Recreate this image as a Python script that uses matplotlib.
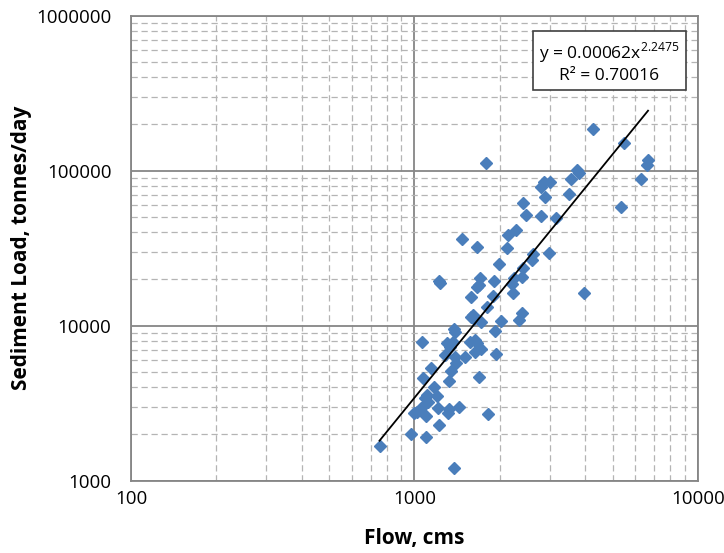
import numpy as np
import matplotlib
matplotlib.use('Agg')
import matplotlib.pyplot as plt
from matplotlib.ticker import LogLocator, FuncFormatter, NullFormatter

plt.rcParams['font.family'] = ['Open Sans', 'DejaVu Sans']
plt.rcParams['mathtext.fontset'] = 'custom'
plt.rcParams['mathtext.rm'] = 'Open Sans'

# Flow (cms) vs sediment load (tonnes/day)
flow = [753, 976, 1102, 1383, 1225, 1000, 1025, 1058, 1102, 1215,
        1328, 1318, 1439, 1822, 1093, 1111, 1120, 1205, 1176, 1076,
        1328, 1694, 1148, 1349, 1394, 1405, 1513, 1944, 1285, 1306,
        1371, 1339, 1574, 1640, 1667, 1722, 1640, 1067, 1394, 1927,
        1383, 1587, 1613, 1626, 1722, 1807, 2023, 2400, 2343, 1897,
        2232, 3969, 1587, 2213, 1667, 1694, 1708, 1913, 2249, 2400,
        1225, 1235, 2420, 1991, 2603, 2624, 2987, 2126, 1475, 1667,
        2143, 2286, 2477, 2799, 3162, 2420, 2891, 3515, 2799, 2871,
        3013, 3573, 3750, 3810, 1793, 4266, 5483, 6668, 6610, 6295,
        5358]
load = [1675, 2000, 1914, 1208, 2287, 2735, 2775, 2945, 2614, 2945,
        2902, 2735, 2990, 2692, 3417, 3573, 3222, 3520, 4022, 4598,
        4395, 4667, 5333, 5106, 6282, 5744, 6282, 6568, 6475, 7730,
        7850, 7290, 7850, 8090, 7730, 7080, 6765, 7850, 9105, 9250,
        9522, 11380, 11720, 11050, 10560, 13200, 10720, 12080, 10880, 15550,
        16260, 16260, 15310, 18580, 17770, 18310, 20310, 19410, 20310, 20610,
        19410, 18860, 23550, 25000, 26560, 29010, 29440, 31700, 36240, 32190,
        38470, 41400, 51780, 51040, 49550, 61890, 67600, 70740, 78540, 84560,
        84560, 88340, 101000, 96610, 112100, 185800, 150900, 117200, 108900, 88340,
        58350]

# power trendline y = a * x^b
coef_a = 0.00062
coef_b = 2.2475
r2 = 0.70016

fig = plt.figure(figsize=(7.24, 5.53), dpi=100)
ax = fig.add_axes([0.1809, 0.1308, 0.7831, 0.8409])

ax.set_xscale('log')
ax.set_yscale('log')
ax.set_xlim(100, 10000)
ax.set_ylim(1000, 1000000)

ax.xaxis.set_minor_locator(LogLocator(base=10, subs=np.arange(2, 10)))
ax.yaxis.set_minor_locator(LogLocator(base=10, subs=np.arange(2, 10)))
ax.xaxis.set_minor_formatter(NullFormatter())
ax.yaxis.set_minor_formatter(NullFormatter())
fmt = FuncFormatter(lambda v, p: '%d' % round(v))
ax.xaxis.set_major_formatter(fmt)
ax.yaxis.set_major_formatter(fmt)

ax.grid(True, which='minor', color='#b4b4b4', linestyle=(0, (5, 3)), linewidth=0.9)
ax.grid(True, which='major', color='#868686', linestyle='-', linewidth=1.3)
ax.set_axisbelow(True)

for s in ax.spines.values():
    s.set_color('#868686')
    s.set_linewidth(1.3)

ax.tick_params(which='both', length=0)
ax.tick_params(axis='x', pad=7, labelsize=13.5)
ax.tick_params(axis='y', pad=14, labelsize=13.5)

ax.plot(flow, load, linestyle='none', marker='D', markersize=6,
        color='#4a7ebb', zorder=3)

xs = np.linspace(min(flow), max(flow), 200)
ax.plot(xs, coef_a * xs ** coef_b, color='black', linewidth=1.3, zorder=4)

ax.text(0.844, 0.900, 'y = 0.00062x$^{2.2475}$\nR\u00b2 = %.5f' % r2,
        transform=ax.transAxes, ha='center', va='center', fontsize=12.5,
        multialignment='center', zorder=5,
        bbox=dict(boxstyle='square,pad=0.38', facecolor='white',
                  edgecolor='#404040', linewidth=1.2))

ax.set_xlabel('Flow, cms', fontsize=15, fontweight='bold', labelpad=14)
ax.set_ylabel('Sediment Load, tonnes/day', fontsize=15, fontweight='bold', labelpad=3)

fig.savefig('out.png', dpi=100)
